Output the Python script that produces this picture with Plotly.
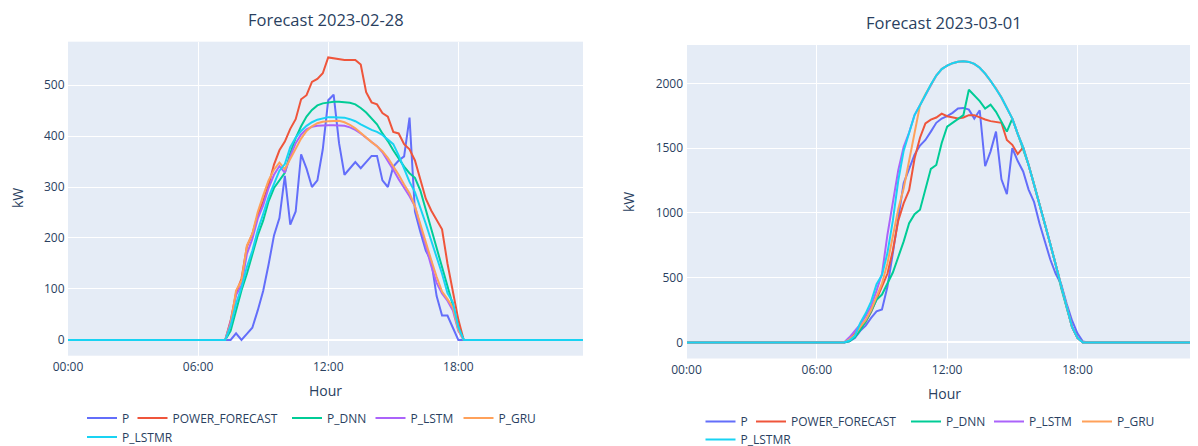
import pandas as pd
import plotly.graph_objects as go

# ---------------- data ----------------
NAMES = ["P", "POWER_FORECAST", "P_DNN", "P_LSTM", "P_GRU", "P_LSTMR"]
COLORS = ["#636EFA", "#EF553B", "#00CC96", "#AB63FA", "#FFA15A", "#19D3F3"]

DAY1 = "2023-02-28"
DAY2 = "2023-03-01"
TITLE1 = "Forecast 2023-02-28"
TITLE2 = "Forecast 2023-03-01"
X_TITLE = "Hour"
Y_TITLE = "kW"

# Values (kW) for the quarter-hours 07:15 ... 18:15 (45 values); every other quarter-hour of the day is 0.
N_BEFORE = 29   # 00:00 ... 07:00
N_AFTER = 22    # 18:30 ... 23:45

d1_P = [0, 0, 13, 0, 12, 24, 58, 96, 148, 205, 239, 322, 226, 252, 364, 336, 300, 313, 374, 470,
        481, 386, 324, 337, 349, 337, 349, 361, 361, 313, 300, 340, 352, 360, 436, 252, 212, 175,
        155, 86, 48, 48, 24, 0, 0]
d1_POWER_FORECAST = [0, 38, 92, 120, 183, 208, 245, 272, 304, 344, 372, 389, 414, 433, 472, 480, 506,
                     512, 523, 554, 552, 550, 549, 549, 549, 540, 486, 466, 462, 445, 438, 408, 405,
                     384, 374, 352, 313, 277, 254, 234, 217, 150, 95, 40, 0]
d1_P_DNN = [0, 18, 58, 97, 130, 169, 205, 234, 272, 298, 313, 328, 366, 396, 419, 438, 451, 460, 464,
            466, 467, 467, 466, 465, 462, 455, 446, 435, 423, 405, 390, 372, 355, 340, 327, 318, 293,
            256, 218, 182, 143, 103, 68, 25, 0]
d1_P_LSTM = [0, 35, 88, 107, 169, 198, 238, 264, 298, 324, 341, 328, 360, 386, 403, 413, 418, 420, 421,
             421, 421, 421, 420, 417, 412, 405, 397, 388, 380, 368, 352, 334, 315, 299, 282, 262, 222,
             183, 145, 112, 91, 77, 58, 18, 0]
d1_P_GRU = [0, 31, 97, 116, 185, 208, 251, 283, 313, 334, 348, 335, 356, 376, 395, 410, 419, 425, 428,
            429, 430, 430, 427, 422, 415, 406, 396, 388, 380, 370, 357, 341, 324, 305, 288, 262, 226,
            190, 157, 124, 95, 80, 64, 20, 0]
d1_P_LSTMR = [0, 28, 71, 103, 143, 175, 215, 247, 280, 306, 332, 345, 378, 397, 410, 420, 427, 432,
              435, 437, 437, 437, 436, 433, 429, 423, 417, 412, 408, 402, 393, 384, 362, 336, 310, 290,
              260, 228, 195, 162, 130, 92, 74, 25, 0]

d2_P = [0, 10, 35, 90, 130, 190, 240, 255, 430, 690, 980, 1230, 1340, 1450, 1520, 1563, 1627, 1695,
        1728, 1746, 1772, 1805, 1810, 1797, 1728, 1792, 1360, 1475, 1627, 1259, 1145, 1500, 1400,
        1320, 1180, 1085, 920, 770, 640, 530, 450, 300, 170, 70, 8]
d2_P_LSTMR = [0, 15, 50, 150, 225, 315, 450, 520, 690, 940, 1250, 1480, 1620, 1755, 1830, 1915, 1990,
              2060, 2110, 2136, 2155, 2166, 2170, 2165, 2150, 2120, 2075, 2020, 1960, 1890, 1810, 1728,
              1610, 1505, 1370, 1225, 1070, 915, 760, 600, 420, 260, 120, 35, 0]
d2_POWER_FORECAST = [0, 25, 70, 110, 160, 235, 330, 430, 530, 710, 940, 1075, 1175, 1420, 1580, 1690,
                     1720, 1736, 1766, 1746, 1736, 1728, 1736, 1754, 1754, 1736, 1721, 1708, 1703, 1695,
                     1563, 1525, 1454, 1505, 1370, 1225, 1070, 915, 760, 600, 420, 260, 120, 35, 0]
d2_P_DNN = [0, 10, 40, 95, 160, 240, 330, 370, 450, 540, 660, 780, 920, 990, 1025, 1190, 1340, 1370,
            1540, 1665, 1695, 1720, 1755, 1950, 1905, 1863, 1805, 1835, 1780, 1703, 1627, 1728, 1610,
            1505, 1370, 1225, 1070, 915, 760, 600, 420, 260, 120, 35, 0]
d2_P_LSTM = [0, 40, 90, 140, 205, 280, 400, 530, 830, 1080, 1330, 1510, 1620, 1755, 1830, 1915, 1990,
             2060, 2110, 2136, 2155, 2166, 2170, 2165, 2150, 2120, 2075, 2020, 1960, 1890, 1810, 1728,
             1610, 1505, 1370, 1225, 1070, 915, 760, 600, 420, 260, 120, 35, 0]
d2_P_GRU = [0, 25, 60, 120, 174, 251, 354, 456, 610, 815, 1030, 1190, 1400, 1620, 1830, 1915, 1990,
            2060, 2110, 2136, 2155, 2166, 2170, 2165, 2150, 2120, 2075, 2020, 1960, 1890, 1810, 1728,
            1610, 1505, 1370, 1225, 1070, 915, 760, 600, 420, 260, 120, 35, 0]

DAY1_SERIES = [d1_P, d1_POWER_FORECAST, d1_P_DNN, d1_P_LSTM, d1_P_GRU, d1_P_LSTMR]
DAY2_SERIES = [d2_P, d2_POWER_FORECAST, d2_P_DNN, d2_P_LSTM, d2_P_GRU, d2_P_LSTMR]


def full_day(vals):
    return [0] * N_BEFORE + list(vals) + [0] * N_AFTER


t1 = pd.date_range(DAY1 + " 00:00", periods=96, freq="15min")
t2 = pd.date_range(DAY2 + " 00:00", periods=96, freq="15min")

# ---------------- layout geometry ----------------
# The page body has an 8px margin, so the figure is drawn at (8, 8) inside the 1198x446 window.
PAGE_W, PAGE_H = 1198, 446
OFF = 8
W, H = PAGE_W - OFF, PAGE_H - OFF
TXT = "#2a3f5f"


def px(x):
    """window x pixel -> paper fraction"""
    return (x - OFF) / W


def py(y):
    """window y pixel -> paper fraction"""
    return 1 - (y - OFF) / H


fig = go.Figure()

# legend item positions in window pixels: (left edge x, row centre y)
LEG1 = [(82, 418), (132.5, 418), (287, 418), (370.5, 418), (458.5, 418), (82, 437)]
LEG2 = [(700.5, 421.5), (751, 421.5), (906, 421.5), (989, 421.5), (1077, 421.5), (700.5, 439.5)]

legend_layout = {}
for i, (name, col, vals) in enumerate(zip(NAMES, COLORS, DAY1_SERIES)):
    k = i + 1
    lid = "legend" if k == 1 else f"legend{k}"
    fig.add_trace(go.Scatter(x=t1, y=full_day(vals), mode="lines", name=name,
                             line=dict(color=col, width=2), xaxis="x", yaxis="y",
                             legend=lid, showlegend=True))
    lx, ly = LEG1[i]
    legend_layout[lid] = dict(orientation="h", x=px(lx), y=py(ly), xanchor="left",
                              yanchor="middle", bgcolor="rgba(0,0,0,0)",
                              font=dict(size=12, color=TXT))

for i, (name, col, vals) in enumerate(zip(NAMES, COLORS, DAY2_SERIES)):
    k = i + 7
    lid = f"legend{k}"
    fig.add_trace(go.Scatter(x=t2, y=full_day(vals), mode="lines", name=name,
                             line=dict(color=col, width=2), xaxis="x2", yaxis="y2",
                             legend=lid, showlegend=True))
    lx, ly = LEG2[i]
    legend_layout[lid] = dict(orientation="h", x=px(lx), y=py(ly), xanchor="left",
                              yanchor="middle", bgcolor="rgba(0,0,0,0)",
                              font=dict(size=12, color=TXT))

axis_common = dict(showgrid=True, gridcolor="white", gridwidth=1, linecolor="white",
                   ticks="", tickfont=dict(size=12, color=TXT), zeroline=False,
                   automargin=False)
yzero = dict(zeroline=True, zerolinecolor="white", zerolinewidth=2)

fig.update_layout(
    width=W, height=H,
    margin=dict(l=0, r=0, t=0, b=0, autoexpand=False),
    showlegend=True,
    paper_bgcolor="white",
    plot_bgcolor="#E5ECF6",
    font=dict(family='"Open Sans", verdana, arial, sans-serif', size=12, color=TXT),
    xaxis=dict(domain=[px(68), px(583)], anchor="y", type="date",
               range=[DAY1 + " 00:00", DAY1 + " 23:45"],
               tick0=DAY1 + " 00:00", dtick=6 * 3600 * 1000, tickformat="%H:%M",
               **axis_common),
    yaxis=dict(domain=[py(355.7), py(41.7)], anchor="x", range=[-30.8, 584.9],
               tick0=0, dtick=100, **{**axis_common, **yzero}),
    xaxis2=dict(domain=[px(686.5), 1.0], anchor="y2", type="date",
                range=[DAY2 + " 00:00", DAY2 + " 23:33"],
                tick0=DAY2 + " 00:00", dtick=6 * 3600 * 1000, tickformat="%H:%M",
                **axis_common),
    yaxis2=dict(domain=[py(358.5), py(45)], anchor="x2", range=[-123.5, 2295.5],
                tick0=0, dtick=500, **{**axis_common, **yzero}),
    annotations=[
        dict(text=TITLE1, x=px(325.5), y=py(19.5), xref="paper", yref="paper",
             showarrow=False, font=dict(size=16.5, color=TXT), xanchor="center", yanchor="middle"),
        dict(text=TITLE2, x=px(944), y=py(22.5), xref="paper", yref="paper",
             showarrow=False, font=dict(size=16.5, color=TXT), xanchor="center", yanchor="middle"),
        dict(text=X_TITLE, x=px(325.5), y=py(390), xref="paper", yref="paper",
             showarrow=False, font=dict(size=14, color=TXT), xanchor="center", yanchor="middle"),
        dict(text=X_TITLE, x=px(944), y=py(393), xref="paper", yref="paper",
             showarrow=False, font=dict(size=14, color=TXT), xanchor="center", yanchor="middle"),
        dict(text=Y_TITLE, x=px(17), y=py(198), xref="paper", yref="paper", textangle=-90,
             showarrow=False, font=dict(size=14, color=TXT), xanchor="center", yanchor="middle"),
        dict(text=Y_TITLE, x=px(629), y=py(202), xref="paper", yref="paper", textangle=-90,
             showarrow=False, font=dict(size=14, color=TXT), xanchor="center", yanchor="middle"),
    ],
    **legend_layout,
)

fig.write_html("out.html")
